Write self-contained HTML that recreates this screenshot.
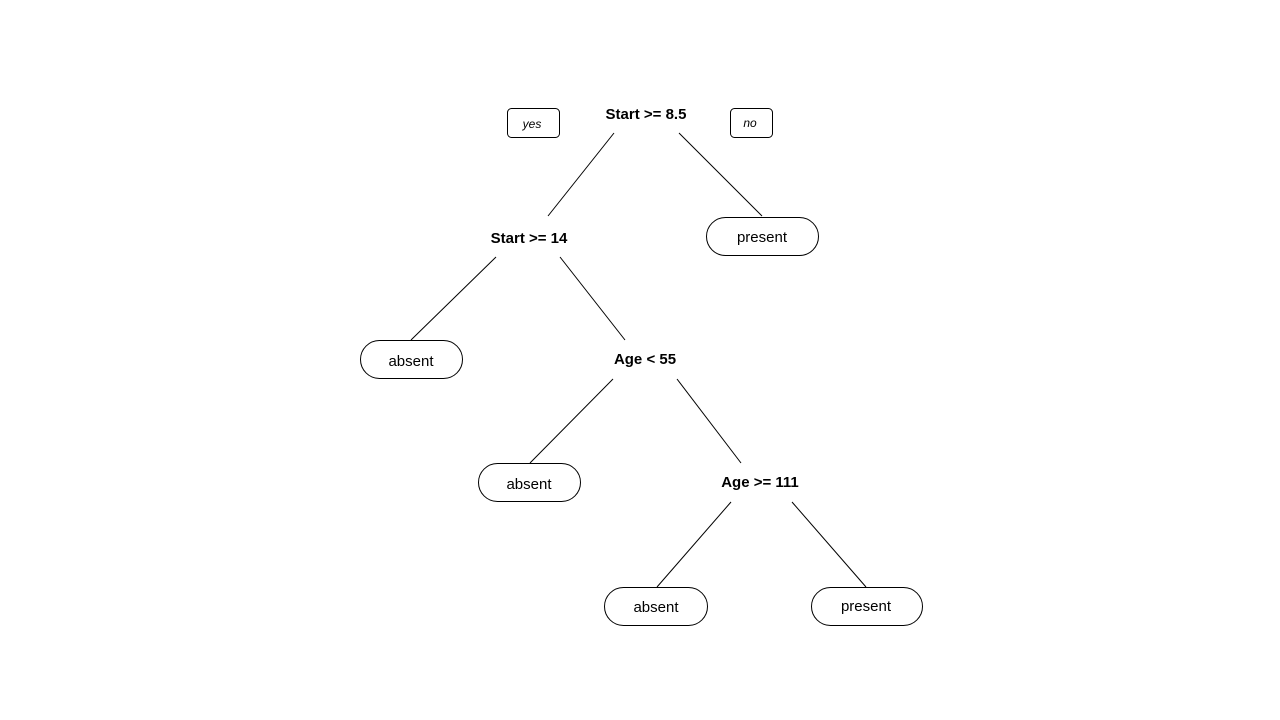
<!DOCTYPE html>
<html><head><meta charset="utf-8"><style>html,body{margin:0;padding:0;background:#fff}svg{display:block}</style></head>
<body>
<svg width="1280" height="720" xmlns="http://www.w3.org/2000/svg" font-family="Liberation Sans, Arial, sans-serif">
<g stroke="#000" stroke-width="1" fill="none">
<line x1="614" y1="133" x2="548" y2="216"/>
<line x1="679" y1="133" x2="762" y2="216"/>
<line x1="496" y1="257" x2="411" y2="340"/>
<line x1="560" y1="257" x2="625" y2="340"/>
<line x1="613" y1="379" x2="530" y2="463"/>
<line x1="677" y1="379" x2="741" y2="463"/>
<line x1="731" y1="502" x2="657" y2="587"/>
<line x1="792" y1="502" x2="866" y2="587"/>
<rect x="507.5" y="108.5" width="52" height="29" rx="4"/>
<rect x="730.5" y="108.5" width="42" height="29" rx="4"/>
<rect x="706.5" y="217.5" width="112" height="38" rx="19"/>
<rect x="360.5" y="340.5" width="102" height="38" rx="19"/>
<rect x="478.5" y="463.5" width="102" height="38" rx="19"/>
<rect x="604.5" y="587.5" width="103" height="38" rx="19"/>
<rect x="811.5" y="587.5" width="111" height="38" rx="19"/>
</g>
<g fill="#000" text-anchor="middle">
<text x="532" y="128" font-size="12" font-style="italic">yes</text>
<text x="750" y="127" font-size="12" font-style="italic">no</text>
<g font-size="15" font-weight="bold">
<text x="646" y="119">Start &gt;= 8.5</text>
<text x="529" y="243">Start &gt;= 14</text>
<text x="645" y="364">Age &lt; 55</text>
<text x="760" y="487">Age &gt;= 111</text>
</g>
<g font-size="15">
<text x="762" y="242">present</text>
<text x="411" y="366">absent</text>
<text x="529" y="489">absent</text>
<text x="656" y="612">absent</text>
<text x="866" y="611">present</text>
</g>
</g>
</svg>
</body></html>
